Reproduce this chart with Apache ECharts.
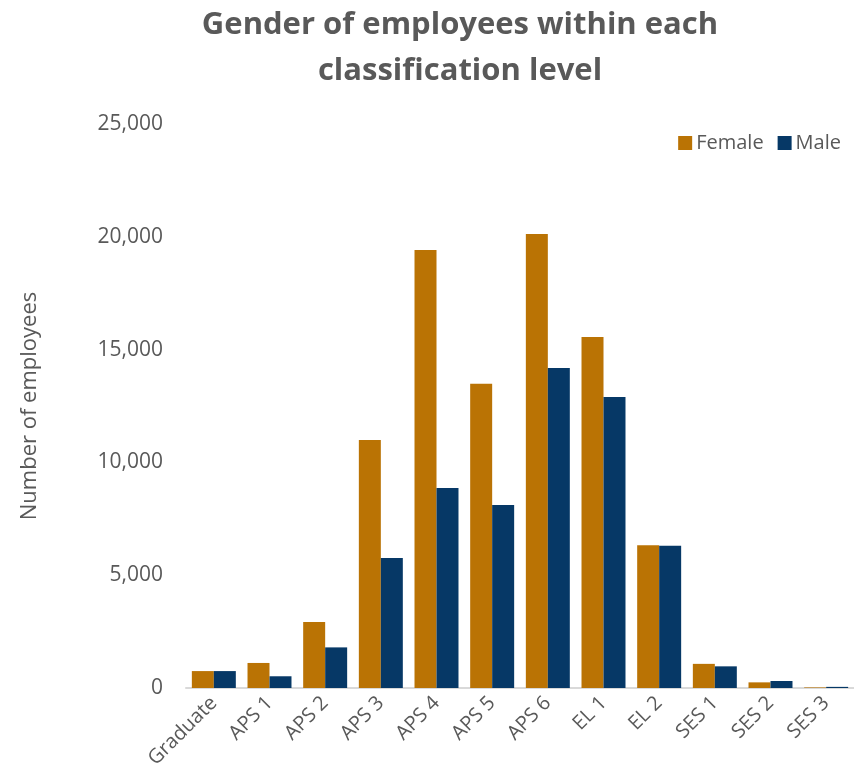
<!DOCTYPE html>
<html><head><meta charset="utf-8">
<script src="https://cdn.jsdelivr.net/npm/echarts@6/dist/echarts.min.js"></script>
<style>html,body{margin:0;padding:0;background:#fff}#c{width:854px;height:782px}</style>
</head><body><div id="c"></div>
<script>
const categories = ['Graduate','APS 1','APS 2','APS 3','APS 4','APS 5','APS 6','EL 1','EL 2','SES 1','SES 2','SES 3'];
const female = [750, 1110, 2930, 10990, 19410, 13490, 20120, 15560, 6330, 1070, 250, 25];
const male = [750, 520, 1800, 5760, 8870, 8110, 14180, 12900, 6300, 960, 310, 50];
const yTicks = [0, 5000, 10000, 15000, 20000, 25000];

const font = '"Open Sans", "Liberation Sans", sans-serif';
const chart = echarts.init(document.getElementById('c'));
chart.setOption({
  animation: false,
  title: {
    text: 'Gender of employees within each\nclassification level',
    left: 455, textAlign: 'center', top: -3,
    textStyle: {fontFamily: font, fontSize: 31, fontWeight: 'bold', color: '#595959', lineHeight: 46}
  },
  legend: {
    right: 8, top: 128, itemWidth: 14, itemHeight: 14, itemGap: 14,
    icon: 'rect',
    textStyle: {fontFamily: font, fontSize: 20, color: '#595959', padding: [0,0,0,-1]},
    data: ['Female','Male']
  },
  grid: {left: 186, top: 124, width: 676, height: 564, containLabel: false},
  xAxis: {
    type: 'category', data: categories,
    axisLine: {lineStyle: {color: '#d9d9d9', width: 2}},
    axisTick: {show: false},
    axisLabel: {rotate: 45, fontFamily: font, fontSize: 20, color: '#595959', margin: 12, interval: 0}
  },
  yAxis: {
    type: 'value', min: 0, max: 25000, interval: 5000,
    name: 'Number of employees', nameLocation: 'middle', nameGap: 145, nameRotate: 90,
    nameTextStyle: {fontFamily: font, fontSize: 22, color: '#595959'},
    splitLine: {show: false},
    axisLine: {show: false}, axisTick: {show: false},
    axisLabel: {fontFamily: font, fontSize: 21, color: '#595959', margin: 23,
      formatter: v => yTicks.includes(v) ? v.toLocaleString('en-US') : ''}
  },
  series: [
    {name: 'Female', type: 'bar', data: female, itemStyle: {color: '#BA7304'}, barGap: '0%', barCategoryGap: '21%'},
    {name: 'Male', type: 'bar', data: male, itemStyle: {color: '#063866'}, barGap: '0%', barCategoryGap: '21%'}
  ]
});
</script></body></html>
